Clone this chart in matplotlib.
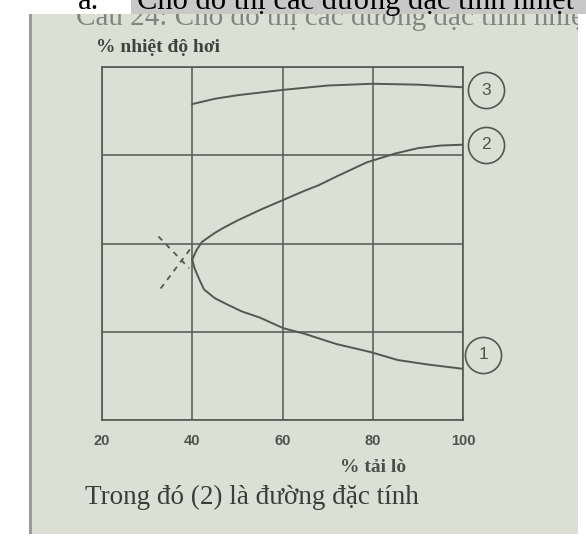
import numpy as np
import matplotlib.pyplot as plt
from matplotlib.patches import Rectangle
from matplotlib.transforms import offset_copy, Bbox

# values (y axis has no numbers, 0..4 = grid rows)
x_ticks = [20, 40, 60, 80, 100]
y_grid = [0, 1, 2, 3, 4]

x1 = [40.0, 40.5, 41.5, 42.6, 45, 47.7, 51, 55, 60.2, 64.7, 72, 79.5, 85.5, 92, 100]
y1 = [1.82, 1.72, 1.6, 1.48, 1.38, 1.31, 1.23, 1.16, 1.04, 0.98, 0.86, 0.77, 0.68, 0.63, 0.58]

x2 = [40.0, 41, 42.2, 45, 47, 50, 55, 60, 65, 68, 72, 78.7, 85, 90, 95, 100]
y2 = [1.82, 1.93, 2.02, 2.12, 2.18, 2.26, 2.38, 2.49, 2.6, 2.66, 2.76, 2.92, 3.02, 3.08, 3.11, 3.12]

x3 = [40, 45, 50, 55, 60, 70, 80, 90, 100]
y3 = [3.58, 3.64, 3.68, 3.71, 3.74, 3.79, 3.81, 3.80, 3.77]

# dashed cross near the meeting point
xa = [32.5, 39.3]
ya = [2.08, 1.72]
xb = [33.0, 39.6]
yb = [1.49, 1.94]

labels = ['1', '2', '3']

W, H = 586, 542
ink = '#525852'
paper = '#dcdfd4'

fig = plt.figure(figsize=(W / 100, H / 100), dpi=100, facecolor='white')

def fx(px):
    return px / W

def fy(py):
    return 1 - py / H

# photo background
fig.add_artist(Rectangle((fx(29), fy(534)), fx(549), 520 / H, transform=fig.transFigure,
                         facecolor=paper, edgecolor='none', zorder=0))
fig.add_artist(Rectangle((fx(29), fy(534)), fx(3), 520 / H, transform=fig.transFigure,
                         facecolor='#9a9d96', edgecolor='none', zorder=0))

# faded question line at the top of the photo (cut off by the photo edges)
faded = fig.text(fx(76), fy(25), 'Câu 24: Cho đồ thị các đường đặc tính nhiệt độ', fontsize=21,
                 family='Liberation Serif', color='#80867f', va='baseline', zorder=1)
faded.set_clip_box(Bbox([[29, H - 534], [578, H - 14]]))
faded.set_clip_on(True)

# white strip and grey highlight above the photo
fig.add_artist(Rectangle((0, fy(14)), fx(131), 14 / H, transform=fig.transFigure,
                         facecolor='white', edgecolor='none', zorder=2))
fig.add_artist(Rectangle((fx(131), fy(14)), fx(455), 14 / H, transform=fig.transFigure,
                         facecolor='#c8c8c8', edgecolor='none', zorder=2))
fig.text(fx(78), fy(9), 'a.', fontsize=22, family='Liberation Serif', color='black',
         va='baseline', zorder=3)
fig.text(fx(137), fy(9), 'Cho đồ thị các đường đặc tính nhiệt', fontsize=22,
         family='Liberation Serif', color='black', va='baseline', zorder=3)

ax = fig.add_axes([fx(102), fy(420), fx(463 - 102), (420 - 67) / H])
ax.set_facecolor('none')
ax.set_xlim(20, 100)
ax.set_ylim(0, 4)
ax.set_xticks(x_ticks)
ax.set_xticklabels([str(v) for v in x_ticks])
ax.set_yticks(y_grid)
ax.set_yticklabels([])
ax.grid(True, color=ink, linewidth=1.1)
ax.tick_params(length=0, pad=10, labelsize=10.5, labelcolor='#4e534e')
for t in ax.get_xticklabels():
    t.set_fontweight('bold')
    t.set_family('Liberation Sans')
for s in ax.spines.values():
    s.set_color(ink)
    s.set_linewidth(1.2)

ax.plot(x1, y1, color=ink, lw=1.4)
ax.plot(x2, y2, color=ink, lw=1.4)
ax.plot(x3, y3, color=ink, lw=1.4)
ax.plot(xa, ya, color=ink, lw=1.3, ls=(0, (3, 3)))
ax.plot(xb, yb, color=ink, lw=1.3, ls=(0, (3, 3)))

# circled numbers at the right ends
ends = [(x1[-1], y1[-1], 20, 14), (x2[-1], y2[-1], 23, 0), (x3[-1], y3[-1], 23, -3)]
for lab, (xe, ye, dx, dy) in zip(labels, ends):
    tr = offset_copy(ax.transData, fig=fig, x=dx, y=dy, units='dots')
    ax.plot([xe], [ye], marker='o', ms=26, mfc='none', mec=ink, mew=1.2,
            transform=tr, clip_on=False)
    ax.text(xe, ye, lab, transform=tr, ha='center', va='center', fontsize=12.5,
            family='Liberation Sans', color='#4e534e')

fig.text(fx(96), fy(48), '% nhiệt độ hơi', fontsize=14, fontweight='bold',
         family='Liberation Serif', color='#3f443f', va='center')
fig.text(fx(340), fy(467), '% tải lò', fontsize=14, fontweight='bold',
         family='Liberation Serif', color='#4a4f4a', va='center')
fig.text(fx(85), fy(497), 'Trong đó (2) là đường đặc tính', fontsize=19.5,
         family='Liberation Serif', color='#3a3e3a', va='center')

fig.savefig('out.png', dpi=100)
